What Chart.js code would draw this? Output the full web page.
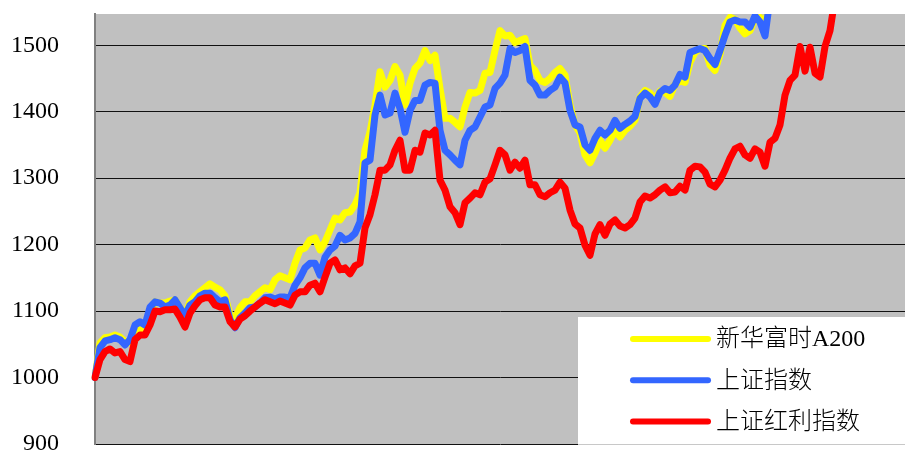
<!DOCTYPE html>
<html>
<head>
<meta charset="utf-8">
<script src="https://cdn.jsdelivr.net/npm/chart.js@4.4.1/dist/chart.umd.min.js"></script>
<style>
html,body{margin:0;padding:0;background:#fff;overflow:hidden}
#wrap{width:905px;height:450px;position:relative}
</style>
</head>
<body>
<div id="wrap"><canvas id="c"></canvas></div>
<script>
// ---- data ----
const categories = Array.from({length: 163}, (_, i) => 'W' + (i + 1));
const seriesNames = ['新华富时A200', '上证指数', '上证红利指数'];

const a200 = [1000,
 1052,1060,1061,1064,1061,1054,1052,1072,1072,1072,
 1099,1114,1112,1112,1115,1117,1105,1094,1114,1123,
 1129,1135,1141,1136,1132,1123,1094,1090,1105,1114,
 1114,1123,1129,1135,1132,1147,1153,1150,1147,1172,
 1192,1195,1207,1210,1192,1204,1222,1240,1237,1248,
 1249,1260,1278,1342,1369,1410,1460,1437,1447,1468,
 1455,1410,1443,1465,1473,1492,1477,1485,1435,1390,
 1390,1384,1377,1407,1429,1428,1432,1458,1459,1492,
 1522,1514,1515,1504,1507,1510,1470,1462,1447,1444,
 1450,1459,1465,1455,1410,1380,1368,1335,1323,1338,
 1357,1345,1357,1372,1362,1372,1378,1387,1422,1432,
 1428,1419,1431,1429,1423,1441,1446,1444,1474,1489,
 1495,1495,1470,1462,1486,1530,1542,1539,1526,1517,
 1522,1541,1542,1527,1570];

const shIndex = [1000,
 1045,1055,1057,1060,1057,1049,1057,1079,1084,1079,
 1106,1114,1112,1106,1109,1117,1105,1093,1109,1114,
 1123,1127,1127,1120,1114,1117,1087,1075,1090,1097,
 1105,1106,1112,1120,1121,1118,1121,1121,1120,1139,
 1150,1165,1172,1172,1154,1181,1192,1198,1214,1207,
 1210,1217,1234,1323,1327,1395,1425,1395,1398,1428,
 1405,1369,1402,1417,1417,1440,1444,1443,1372,1342,
 1335,1327,1320,1357,1372,1377,1392,1407,1410,1435,
 1443,1455,1495,1489,1492,1498,1447,1440,1425,1425,
 1432,1437,1452,1443,1402,1380,1377,1350,1342,1360,
 1372,1365,1372,1387,1375,1381,1386,1393,1420,1428,
 1422,1411,1429,1435,1432,1440,1456,1452,1489,1492,
 1495,1492,1480,1471,1492,1515,1535,1538,1535,1535,
 1527,1544,1535,1514,1570];

const shDividend = [1000,
 1027,1039,1043,1037,1039,1027,1024,1057,1064,1064,
 1079,1100,1099,1102,1102,1103,1091,1076,1097,1108,
 1117,1120,1120,1109,1106,1106,1084,1076,1088,1093,
 1100,1106,1112,1117,1114,1111,1115,1112,1109,1124,
 1129,1129,1139,1142,1129,1151,1172,1177,1162,1165,
 1156,1168,1172,1225,1245,1275,1312,1312,1320,1342,
 1357,1312,1312,1342,1339,1368,1365,1372,1297,1282,
 1257,1248,1230,1263,1270,1278,1275,1294,1299,1320,
 1342,1335,1312,1324,1315,1327,1290,1290,1275,1272,
 1278,1282,1294,1285,1252,1231,1225,1199,1184,1216,
 1230,1214,1231,1237,1228,1225,1230,1240,1264,1273,
 1270,1275,1282,1287,1278,1279,1288,1282,1312,1318,
 1317,1309,1291,1287,1297,1312,1330,1344,1348,1335,
 1330,1344,1339,1318,1354,1360,1380,1425,1447,1455,
 1498,1461,1497,1458,1452,1498,1522,1570];

const yTicks = [900, 1000, 1100, 1200, 1300, 1400, 1500];
const yTickLabels = ['900', '1000', '1100', '1200', '1300', '1400', '1500'];
const seriesColors = ['#FFFF00', '#3366FF', '#FF0000'];

// ---- plugins ----
const plotBg = {
  id: 'plotBg',
  beforeDraw(chart) {
    const {ctx, chartArea: a} = chart;
    ctx.save();
    ctx.fillStyle = '#C0C0C0';
    ctx.fillRect(a.left, a.top, a.right - a.left, a.bottom - a.top);
    ctx.restore();
  }
};

const boxLegend = {
  id: 'boxLegend',
  afterDraw(chart) {
    const {ctx, chartArea: a} = chart;
    const x0 = 578, y0 = 317, x1 = a.right, y1 = a.bottom;
    ctx.save();
    ctx.fillStyle = '#FFFFFF';
    ctx.fillRect(x0, y0, x1 - x0, y1 - y0 + 1);
    ctx.strokeStyle = '#C8C8C8';
    ctx.lineWidth = 1;
    ctx.beginPath();
    ctx.moveTo(x0, y1 + 0.5);
    ctx.lineTo(x1, y1 + 0.5);
    ctx.stroke();
    chart.data.datasets.forEach((ds, i) => {
      const y = 339 + i * 41.3;
      ctx.strokeStyle = ds.borderColor;
      ctx.lineWidth = 6;
      ctx.lineCap = 'round';
      ctx.beginPath();
      ctx.moveTo(633, y);
      ctx.lineTo(708, y);
      ctx.stroke();
      ctx.fillStyle = '#000';
      ctx.font = '300 24px "Liberation Serif", "Noto Sans CJK SC"';
      ctx.textBaseline = 'middle';
      ctx.textAlign = 'left';
      ctx.fillText(ds.label, 716, y + 1);
    });
    ctx.restore();
  }
};

const seriesData = [a200, shIndex, shDividend];
const orders = [3, 2, 1];

new Chart(document.getElementById('c'), {
  type: 'line',
  data: {
    labels: categories,
    datasets: seriesData.map((d, i) => ({
      label: seriesNames[i],
      data: d,
      borderColor: seriesColors[i],
      backgroundColor: seriesColors[i],
      borderWidth: 7,
      pointRadius: 0,
      pointHoverRadius: 0,
      tension: 0,
      fill: false,
      borderJoinStyle: 'round',
      borderCapStyle: 'round',
      order: orders[i]
    }))
  },
  options: {
    responsive: true,
    maintainAspectRatio: false,
    animation: false,
    devicePixelRatio: 1,
    layout: {padding: {top: 14, bottom: 6, left: 0, right: 0}},
    plugins: {legend: {display: false}, tooltip: {enabled: false}},
    scales: {
      x: {display: false, offset: false},
      y: {
        min: 900,
        max: 1547,
        afterBuildTicks(scale) { scale.ticks = yTicks.map(v => ({value: v})); },
        afterFit(scale) { scale.width = 95; scale.paddingTop = 0; scale.paddingBottom = 0; },
        ticks: {
          color: '#000',
          padding: 36,
          font: {family: '"Liberation Serif", serif', size: 24},
          callback: (v) => yTickLabels[yTicks.indexOf(v)] ?? ''
        },
        grid: {color: '#111', lineWidth: 1, drawTicks: false},
        border: {display: true, color: '#808080', width: 2}
      }
    }
  },
  plugins: [plotBg, boxLegend]
});
</script>
</body>
</html>
